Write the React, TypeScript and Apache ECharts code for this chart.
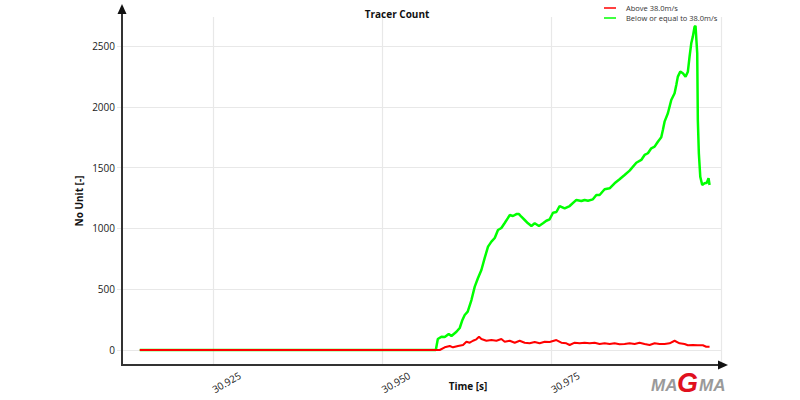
import React, { useEffect, useRef } from "react";
import * as echarts from "echarts";

const titleText = "Tracer Count";
const xAxisTitle = "Time [s]";
const yAxisTitle = "No Unit [-]";
const aboveName = "Above 38.0m/s";
const belowName = "Below or equal to 38.0m/s";

const xTickValues = [30.925, 30.95, 30.975, 31.0];
const xLabelValues = [30.925, 30.95, 30.975];
const yTickValues = [0, 500, 1000, 1500, 2000, 2500];

const belowPoints: [number, number][] = [
  [30.9142, 0], [30.9579, 0], [30.9582, 90], [30.95873, 109], [30.95922, 107], [30.95981, 132],
  [30.96021, 115], [30.96095, 150], [30.96143, 181], [30.96183, 247], [30.96217, 288], [30.96261, 315],
  [30.96316, 411], [30.96365, 521], [30.96413, 592], [30.96463, 658], [30.96512, 757], [30.96561, 850],
  [30.96611, 891], [30.9666, 921], [30.96708, 987], [30.96758, 1003], [30.96807, 1044], [30.96856, 1086],
  [30.96881, 1110], [30.96929, 1102], [30.9698, 1118], [30.97018, 1118], [30.97053, 1096], [30.97102, 1069],
  [30.97151, 1042], [30.97201, 1020], [30.9725, 1042], [30.97313, 1020], [30.97372, 1042], [30.97422, 1063],
  [30.97471, 1075], [30.9752, 1129], [30.9757, 1135], [30.97618, 1184], [30.97692, 1165], [30.97766, 1184],
  [30.97865, 1234], [30.97938, 1225], [30.97987, 1234], [30.98036, 1228], [30.98109, 1239], [30.9816, 1275],
  [30.98208, 1275], [30.98282, 1322], [30.98356, 1330], [30.98429, 1371], [30.98503, 1404], [30.98577, 1439],
  [30.98651, 1475], [30.9875, 1540], [30.98823, 1563], [30.98872, 1604], [30.98921, 1618], [30.98971, 1659],
  [30.9902, 1672], [30.99068, 1713], [30.99118, 1749], [30.99142, 1809], [30.99167, 1878], [30.99216, 1947],
  [30.99266, 2056], [30.99315, 2111], [30.9934, 2179], [30.99363, 2248], [30.99399, 2289], [30.99437, 2276],
  [30.99477, 2248], [30.99511, 2289], [30.99536, 2412], [30.99561, 2522], [30.99584, 2577], [30.9961, 2659],
  [30.99624, 2665], [30.99649, 2440], [30.99658, 1892], [30.99673, 1618], [30.99694, 1425], [30.99723, 1357],
  [30.99757, 1371], [30.99791, 1376], [30.99816, 1412], [30.99831, 1357],
];

const abovePoints: [number, number][] = [
  [30.9142, 0], [30.95848, 0], [30.95922, 22], [30.95996, 33], [30.96044, 22], [30.96118, 33],
  [30.96192, 41], [30.96242, 68], [30.96291, 60], [30.96339, 76], [30.96389, 88], [30.96428, 109],
  [30.96463, 90], [30.96537, 76], [30.96611, 82], [30.96685, 76], [30.96758, 90], [30.96807, 68],
  [30.96881, 76], [30.96955, 60], [30.97028, 76], [30.97102, 60], [30.97176, 55], [30.9725, 66],
  [30.97323, 55], [30.97397, 68], [30.97471, 66], [30.9757, 82], [30.97643, 60], [30.97717, 55],
  [30.97766, 41], [30.9784, 60], [30.97913, 55], [30.97987, 60], [30.98061, 55], [30.98135, 60],
  [30.98208, 49], [30.98282, 55], [30.98356, 49], [30.98429, 55], [30.98503, 47], [30.98577, 49],
  [30.98651, 55], [30.98725, 49], [30.98798, 60], [30.98872, 49], [30.98946, 41], [30.9902, 55],
  [30.99093, 49], [30.99167, 49], [30.99241, 55], [30.99315, 76], [30.99388, 55], [30.99462, 49],
  [30.99511, 39], [30.99585, 41], [30.99658, 39], [30.99732, 39], [30.99782, 27], [30.99831, 27],
];

const FONT = "'Open Sans', sans-serif";

export default function App() {
  const ref = useRef<HTMLDivElement>(null);
  useEffect(() => {
    document.body.style.margin = "0";
    if (!ref.current) return;
    const chart = echarts.init(ref.current, null, { renderer: "svg" });
    chart.setOption({
      animation: false,
      backgroundColor: "#ffffff",
      grid: { left: 117, right: 79, top: 17, bottom: 35, containLabel: false },
      legend: {
        orient: "vertical",
        left: 604,
        top: 3,
        padding: 0,
        itemGap: 0,
        itemWidth: 12,
        itemHeight: 1.5,
        icon: "rect",
        data: [aboveName, belowName],
        textStyle: { fontFamily: FONT, fontSize: 7.5, color: "#333", lineHeight: 10, padding: [0, 0, 0, 5] },
      },
      xAxis: {
        type: "value",
        min: 30.91084,
        max: 31.0,
        axisLine: { show: false },
        axisTick: { show: false, customValues: xTickValues },
        splitLine: { show: true, lineStyle: { color: "#e8e8e8", width: 1.2 } },
        axisLabel: {
          customValues: xLabelValues,
          formatter: (v: number) => v.toFixed(3),
          rotate: 30,
          align: "left",
          verticalAlign: "middle",
          margin: 25,
          fontFamily: FONT,
          fontSize: 10,
          color: "#222",
        },
      },
      yAxis: {
        type: "value",
        min: -123.4,
        max: 2738.5,
        axisLine: { show: false },
        axisTick: { show: false, customValues: yTickValues },
        splitLine: { show: true, lineStyle: { color: "#e8e8e8", width: 1.2 } },
        axisLabel: {
          customValues: yTickValues,
          formatter: (v: number) => String(v),
          margin: 2,
          fontFamily: FONT,
          fontSize: 10,
          color: "#222",
          verticalAlign: "middle",
          padding: [0, 0, 6, 0],
        },
      },
      series: [
        {
          name: belowName,
          type: "line",
          data: belowPoints,
          showSymbol: false,
          symbol: "none",
          lineStyle: { color: "#00ff00", width: 2.5 },
          itemStyle: { color: "#00ff00" },
          z: 2,
        },
        {
          name: aboveName,
          type: "line",
          data: abovePoints,
          showSymbol: false,
          symbol: "none",
          lineStyle: { color: "#ff0000", width: 2 },
          itemStyle: { color: "#ff0000" },
          z: 3,
        },
      ],
      graphic: [
        {
          type: "text",
          x: 397,
          y: 14,
          z: 100,
          style: { text: titleText, align: "center", verticalAlign: "middle", font: `bold 10px ${FONT}`, fill: "#111" },
        },
        {
          type: "text",
          x: 468,
          y: 386,
          z: 100,
          style: { text: xAxisTitle, align: "center", verticalAlign: "middle", font: `bold 10px ${FONT}`, fill: "#111" },
        },
        {
          type: "text",
          x: 79,
          y: 201,
          rotation: Math.PI / 2,
          z: 100,
          style: { text: yAxisTitle, align: "center", verticalAlign: "middle", font: `bold 10px ${FONT}`, fill: "#111" },
        },
        {
          type: "line",
          z: 100,
          shape: { x1: 122, y1: 366, x2: 122, y2: 12 },
          style: { stroke: "#333", lineWidth: 2 },
        },
        {
          type: "polygon",
          z: 100,
          shape: { points: [[122, 4], [117.5, 14], [126.5, 14]] },
          style: { fill: "#111" },
        },
        {
          type: "line",
          z: 100,
          shape: { x1: 121, y1: 365, x2: 720, y2: 365 },
          style: { stroke: "#333", lineWidth: 2 },
        },
        {
          type: "polygon",
          z: 100,
          shape: { points: [[728, 365], [718, 360.5], [718, 369.5]] },
          style: { fill: "#111" },
        },
        {
          type: "text",
          x: 651,
          y: 394,
          z: 100,
          style: { text: "MA", align: "left", verticalAlign: "bottom", font: "italic bold 17px 'Liberation Sans', sans-serif", fill: "#9a9a9a" },
        },
        {
          type: "text",
          x: 677,
          y: 396,
          z: 100,
          style: { text: "G", align: "left", verticalAlign: "bottom", font: "italic bold 27px 'Liberation Sans', sans-serif", fill: "#e0101e" },
        },
        {
          type: "text",
          x: 699,
          y: 394,
          z: 100,
          style: { text: "MA", align: "left", verticalAlign: "bottom", font: "italic bold 17px 'Liberation Sans', sans-serif", fill: "#9a9a9a" },
        },
      ],
    });
    return () => chart.dispose();
  }, []);
  return <div ref={ref} style={{ width: 800, height: 400 }} />;
}
